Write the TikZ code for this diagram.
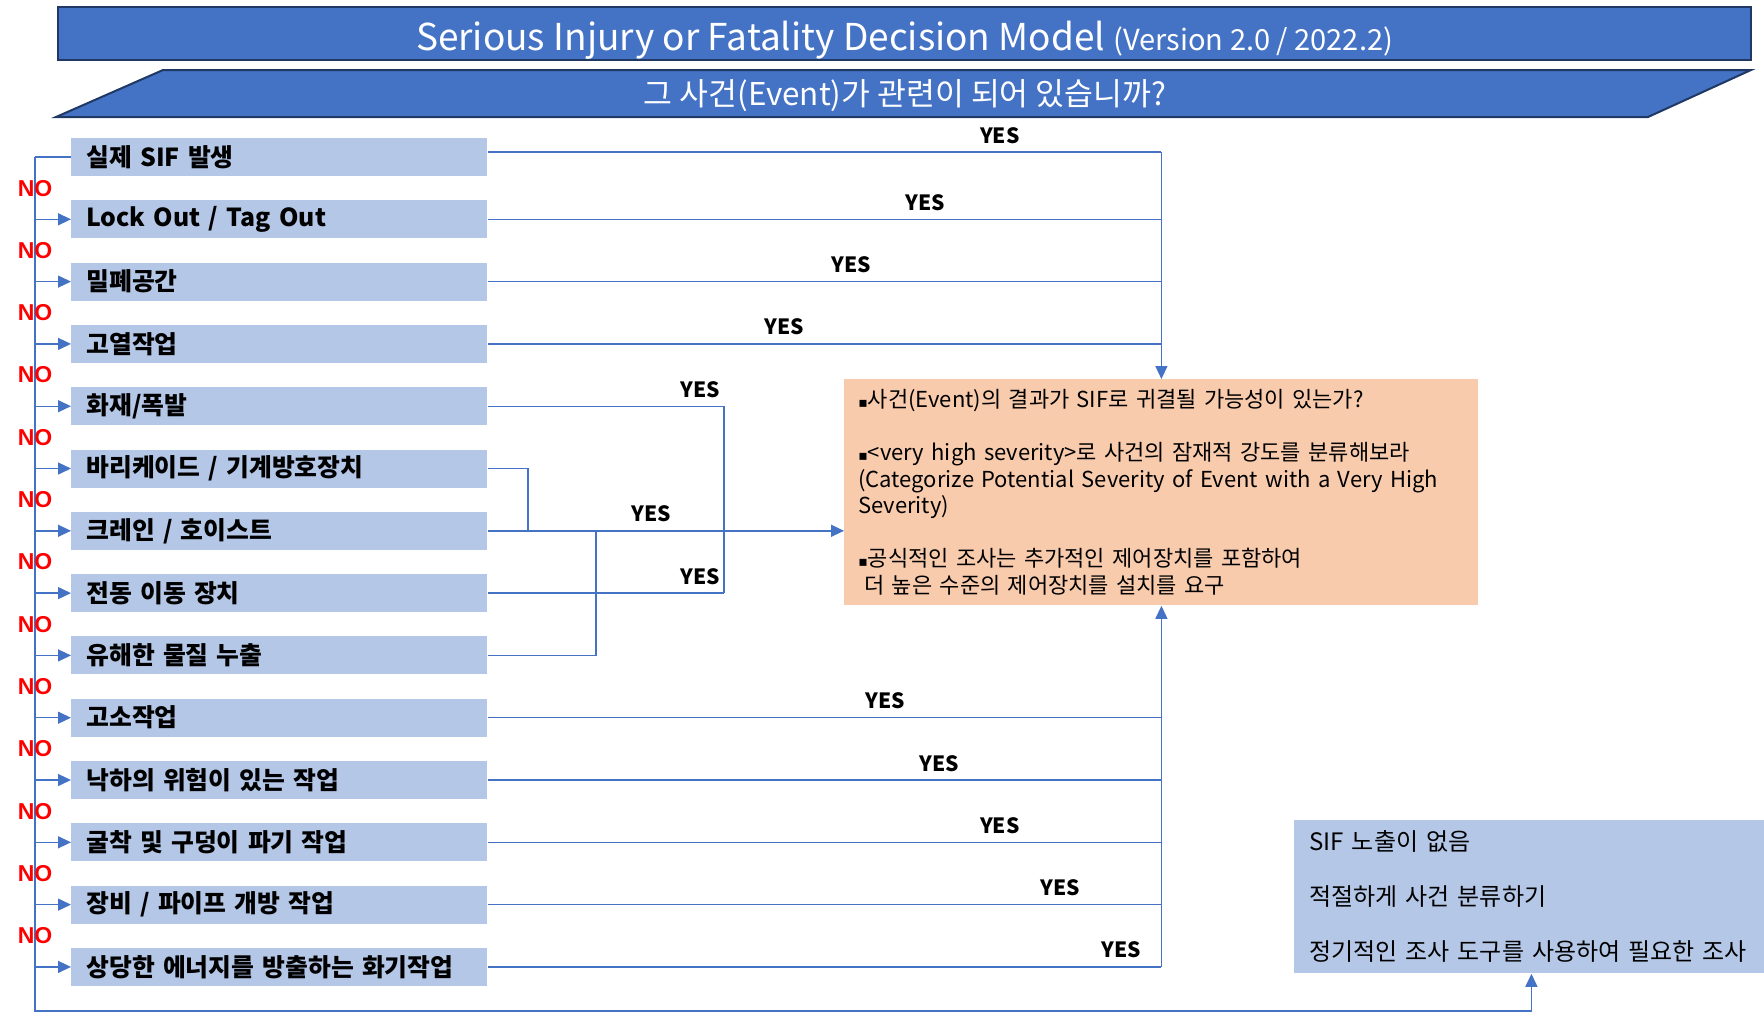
\documentclass[tikz,border=0pt]{standalone}
\usepackage{fontspec}
\usepackage{tikz}
\setmainfont{Noto Sans CJK KR}
\newfontfamily\nofont{Liberation Sans}
\newfontfamily\symfont{DejaVu Sans}
\usetikzlibrary{arrows.meta}
\definecolor{sifblue}{RGB}{68,114,196}
\definecolor{sifnavy}{RGB}{31,56,100}
\definecolor{siflight}{RGB}{180,199,231}
\definecolor{siforange}{RGB}{248,203,173}
\definecolor{sifred}{RGB}{255,0,0}
\newcommand{\sq}{{\symfont\fontsize{7}{8}\selectfont ▪}}

\begin{document}
\begin{tikzpicture}[x=0.5pt, y=-0.5pt,
    item/.style={fill=siflight, anchor=west, text width=193pt, inner xsep=7.5pt, inner ysep=0pt,
                 minimum height=19pt, align=left, font=\fontsize{12.4}{14}\selectfont\bfseries},
    link/.style={draw=sifblue, line width=0.7pt},
    arrow/.style={link, -{Triangle[length=6.5pt,width=6pt]}},
    no/.style={text=sifred, inner sep=0pt, font=\nofont\fontsize{11.5}{13}\selectfont\bfseries},
    yes/.style={above, inner sep=4pt, font=\fontsize{10.5}{12}\selectfont\bfseries}]
    \useasboundingbox (0,0) rectangle (1764,1014);

    % header
    \node[fill=sifblue, draw=sifnavy, line width=1pt, minimum width=846.5pt, minimum height=26.5pt,
          inner sep=0pt, text=white] (title) at (904.5,33.5)
        {\raisebox{-8.5pt}[0pt][0pt]{\fontsize{18.5}{20}\selectfont Serious Injury or Fatality Decision Model
         \fontsize{14.5}{16}\selectfont(Version 2.0 / 2022.2)}};
    \draw[fill=sifblue, draw=sifnavy, line width=1pt] (163,70) -- (1751,70) -- (1648,117) -- (56,117) -- cycle;
    \node[text=white, font=\fontsize{15.7}{18}\selectfont] (ask) at (905,96) {그 사건(Event)가 관련이 되어 있습니까?};

    % questions
    \node[item] (b1) at (71,157) {실제 SIF 발생};
    \node[item] (b2) at (71,219.3) {Lock Out / Tag Out};
    \node[item] (b3) at (71,281.6) {밀폐공간};
    \node[item] (b4) at (71,343.9) {고열작업};
    \node[item] (b5) at (71,406.2) {화재/폭발};
    \node[item] (b6) at (71,468.5) {바리케이드 / 기계방호장치};
    \node[item] (b7) at (71,530.8) {크레인 / 호이스트};
    \node[item] (b8) at (71,593.1) {전동 이동 장치};
    \node[item] (b9) at (71,655.4) {유해한 물질 누출};
    \node[item] (b10) at (71,717.7) {고소작업};
    \node[item] (b11) at (71,780) {낙하의 위험이 있는 작업};
    \node[item] (b12) at (71,842.3) {굴착 및 구덩이 파기 작업};
    \node[item] (b13) at (71,904.6) {장비 / 파이프 개방 작업};
    \node[item] (b14) at (71,966.9) {상당한 에너지를 방출하는 화기작업};

    % outcomes
    \node[fill=siforange, anchor=north west, minimum height=113pt, text width=303pt, inner xsep=7pt,
          align=left, font=\fontsize{11}{13.25}\selectfont] (sev) at (844,379)
        {\sq 사건(Event)의 결과가 SIF로 귀결될 가능성이 있는가?\\[13.25pt]
         \sq<very high severity>로 사건의 잠재적 강도를 분류해보라\\
         (Categorize Potential Severity of Event with a Very High\\
         Severity)\\[13.25pt]
         \sq 공식적인 조사는 추가적인 제어장치를 포함하여\\
         \hspace*{3pt}더 높은 수준의 제어장치를 설치를 요구};
    \node[fill=siflight, anchor=north west, minimum height=76.5pt, text width=230pt, inner xsep=7.5pt,
          align=left, font=\fontsize{12}{27.5}\selectfont] (nosif) at (1294,820)
        {SIF 노출이 없음\\적절하게 사건 분류하기\\정기적인 조사 도구를 사용하여 필요한 조사};

    % NO chain
    \coordinate (bus) at (35,0);
    \coordinate (low) at (35,1011);
    \draw[link] (b1.west) -- (b1.west -| bus);
    \foreach \i [count=\j from 2] in {1,...,13}
        \draw[arrow] (b\i.west -| bus) |- node[no, pos=0.25] {NO} (b\j.west);
    \draw[arrow] (b14.west -| bus) -- (low) -| ([xshift=-4pt]nosif.south);

    % YES, upper group
    \draw[link] ([yshift=2.5pt]b1.east) -- node[yes, pos=.76] {YES} ([yshift=2.5pt]b1.east -| sev.north);
    \draw[link] (b2.east) -- node[yes, pos=.65] {YES} (b2.east -| sev.north);
    \draw[link] (b3.east) -- node[yes, pos=.54] {YES} (b3.east -| sev.north);
    \draw[link] (b4.east) -- node[yes, pos=.44] {YES} (b4.east -| sev.north);
    \draw[arrow] ([yshift=2.5pt]b1.east -| sev.north) -- (sev.north);

    % YES, middle group
    \draw[link] (b5.east) -- node[yes, pos=.9] {YES} ([xshift=118pt]b5.east) -- ([xshift=118pt]b8.east);
    \draw[link] (b8.east) -- node[yes, pos=.9] {YES} ([xshift=118pt]b8.east);
    \draw[link] (b6.east) -| ([xshift=20pt]b7.east);
    \draw[link] (b9.east) -| ([xshift=54pt]b7.east);
    \draw[arrow] (b7.east) -- node[yes, pos=.46] {YES} (b7.east -| sev.west);

    % YES, lower group
    \draw[link] (b10.east) -- node[yes, pos=.59] {YES} (b10.east -| sev.south);
    \draw[link] (b11.east) -- node[yes, pos=.67] {YES} (b11.east -| sev.south);
    \draw[link] (b12.east) -- node[yes, pos=.76] {YES} (b12.east -| sev.south);
    \draw[link] (b13.east) -- node[yes, pos=.85] {YES} (b13.east -| sev.south);
    \draw[link] (b14.east) -- node[yes, pos=.94] {YES} (b14.east -| sev.south);
    \draw[arrow] (b14.east -| sev.south) -- (sev.south);
\end{tikzpicture}
\end{document}
